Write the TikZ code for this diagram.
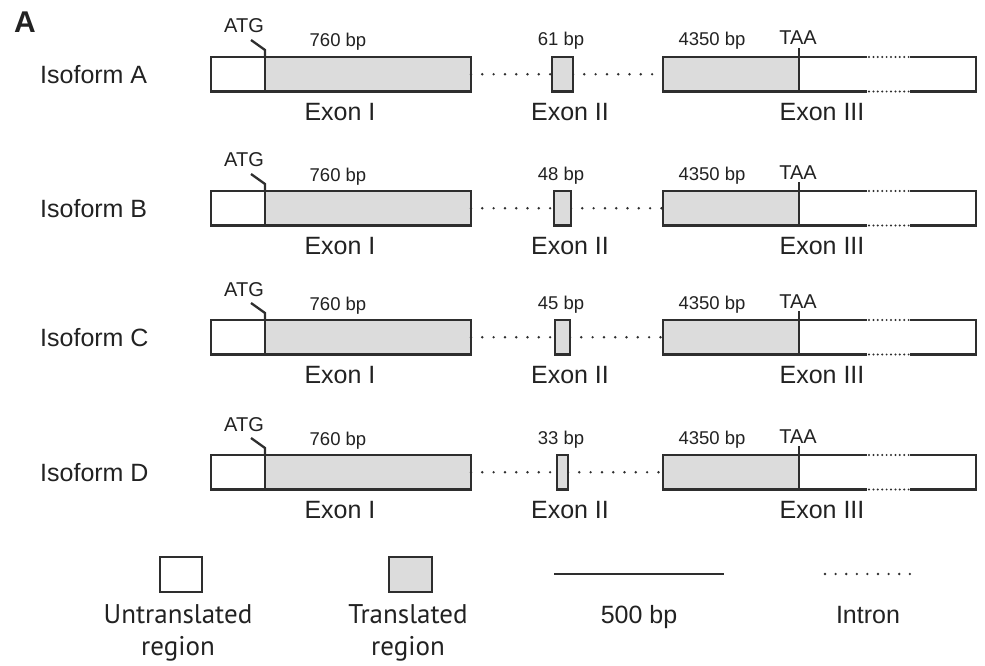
\documentclass[tikz,border=0pt]{standalone}
\usepackage{fontspec}
\setmainfont{Liberation Sans}
\newfontfamily\legfont{PT Sans}
\definecolor{ln}{HTML}{2E2E2E}
\definecolor{tr}{HTML}{DCDCDC}
\definecolor{tx}{HTML}{222222}
\newcommand\isorow[5]{%
  \pgfmathsetmacro\rT{#2}%
  \pgfmathsetmacro\rB{#2+34.5}%
  \pgfmathsetmacro\rM{#2+17.25}%
  % exon I
  \fill[tr] (265,\rT) rectangle (471,\rB);
  \draw[box] (211,\rT) rectangle (471,\rB);
  \draw[box] (265,\rT) -- (265,\rB);
  \draw[box] (265,\rT) -- ++(0,-7) -- ++(-14,-10);
  % introns
  \draw[intron] (471,\rM) -- (#3,\rM);
  \draw[intron] (#4,\rM) -- (663,\rM);
  % exon II
  \filldraw[box,fill=tr] (#3,\rT) rectangle (#4,\rB);
  % exon III
  \filldraw[box,fill=tr] (663,\rT) rectangle (799,\rB);
  \draw[box,line join=miter] (867,\rT) -- (799,\rT) -- (799,\rB) -- (867,\rB);
  \draw[box,line join=miter] (910,\rT) -- (976,\rT) -- (976,\rB) -- (910,\rB);
  \draw[fine] (869,\rT) -- (909,\rT);
  \draw[fine] (869,\rB) -- (909,\rB);
  \draw[box] (799,\rT) -- ++(0,-9);
  % labels
  \node[big,anchor=west] (iso#1) at (40,\rM) {Isoform #1};
  \node[codon,anchor=base] (atg#1) at (244,{#2-24}) {ATG};
  \node[codon,anchor=base] (taa#1) at (798,{#2-12}) {TAA};
  \node[small,anchor=base] (bpI#1) at (338,{#2-10}) {760 bp};
  \node[small,anchor=base] (bpII#1) at (561,{#2-11}) {#5};
  \node[small,anchor=base] (bpIII#1) at (712,{#2-11}) {4350 bp};
  \node[big] (exI#1) at (340,{#2+55.5}) {Exon I};
  \node[big] (exII#1) at (570,{#2+55.5}) {Exon II};
  \node[big] (exIII#1) at (822,{#2+55.5}) {Exon III};
}
\begin{document}
\begin{tikzpicture}[x=1pt,y=-1pt,
  box/.style={draw=ln,line width=2.3pt},
  intron/.style={draw=ln,line width=2.7pt,line cap=round,dash pattern=on 0pt off 11.3pt},
  fine/.style={draw=ln,line width=2.2pt,line cap=round,dash pattern=on 0pt off 4.4pt},
  big/.style={font=\fontsize{25}{28}\selectfont,text=tx,inner sep=0pt},
  small/.style={font=\fontsize{18.5}{20}\selectfont,text=tx,inner sep=0pt},
  codon/.style={font=\fontsize{20}{22}\selectfont,text=tx,inner sep=0pt},
  leg/.style={font=\legfont\fontsize{27}{30}\selectfont,text=tx,inner sep=0pt,align=center},
  leg2/.style={font=\fontsize{25}{28}\selectfont,text=tx,inner sep=0pt}]
\useasboundingbox[fill=white] (0,0) rectangle (985,666);
\node[font=\bfseries\fontsize{30}{32}\selectfont,text=tx,inner sep=0pt] (panel) at (25,22) {A};
\isorow{A}{57}{552}{573}{61 bp}
\isorow{B}{191}{554}{571}{48 bp}
\isorow{C}{320}{555}{570}{45 bp}
\isorow{D}{455}{557}{568}{33 bp}
% legend
\draw[box] (160,557) rectangle (202,592);
\filldraw[box,fill=tr] (389,557) rectangle (432,592);
\coordinate (sa) at (554,574);
\coordinate (sb) at (724,574);
\draw[draw=ln,line width=2.5pt] (sa) -- (sb);
\coordinate (ia) at (825,574);
\coordinate (ib) at (911,574);
\draw[draw=ln,line width=2.6pt,line cap=round,dash pattern=on 0pt off 10.6pt] (ia) -- (ib);
\node[leg,anchor=base] (lu) at (178,623) {Untranslated};
\node[leg,anchor=base] (lu2) at (178,655) {region};
\node[leg,anchor=base] (lt) at (408,623) {Translated};
\node[leg,anchor=base] (lt2) at (408,655) {region};
\node[leg2,anchor=base] (ls) at (639,623) {500 bp};
\node[leg2,anchor=base] (li) at (868,623) {Intron};
\end{tikzpicture}
\end{document}
